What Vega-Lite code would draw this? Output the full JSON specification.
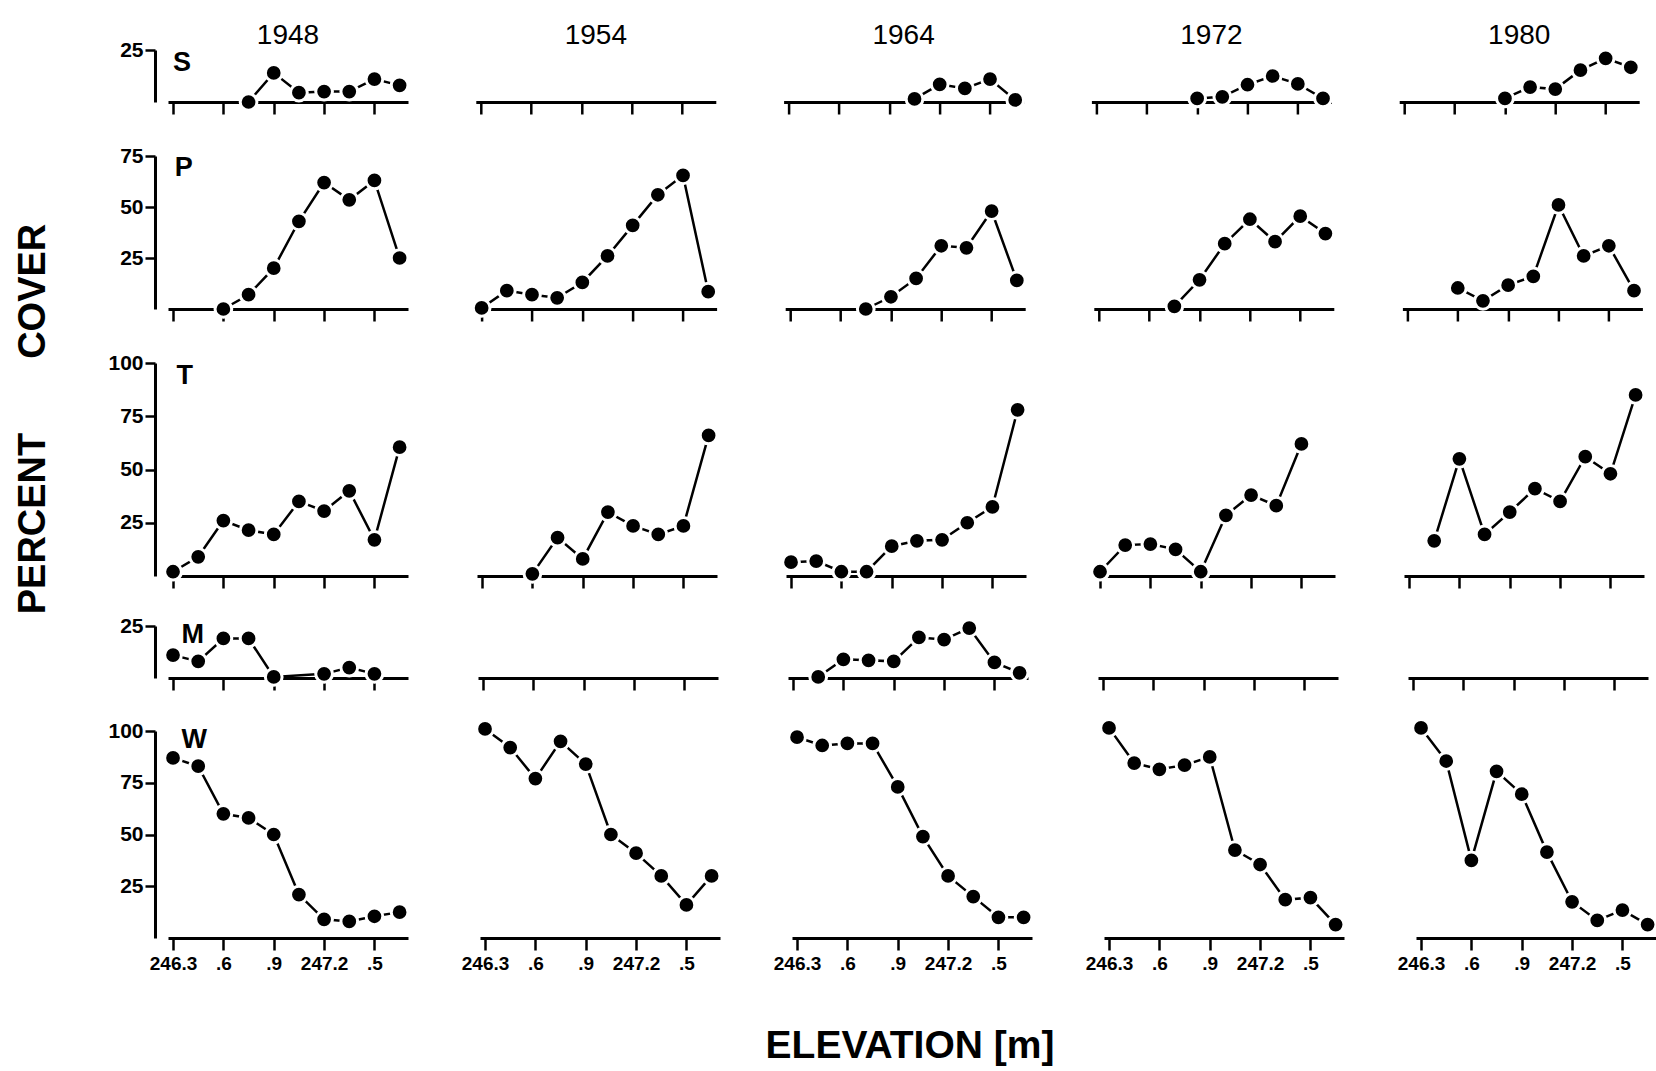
{
 "$schema": "https://vega.github.io/schema/vega-lite/v6.json",
 "background": "white",
 "padding": {"left": 14, "top": 22, "right": 5, "bottom": 5},
 "title": {"text": "PERCENT\u00a0\u00a0\u00a0\u00a0\u00a0\u00a0\u00a0COVER", "orient": "left", "anchor": "middle", "fontSize": 38, "font": "Liberation Sans", "fontWeight": "bold", "color": "black", "offset": 54, "dx": 125},
 "config": {
  "view": {"stroke": null},
  "font": "Liberation Sans",
  "axis": {"grid": false, "domainColor": "black", "tickColor": "black", "labelColor": "black", "domainWidth": 3, "tickWidth": 2.5, "labelFont": "Liberation Sans", "labelFontWeight": "bold"}
 },
 "datasets": {
  "cover": [
   {"yr":1948,"sp":"S","el":246.75,"v":0},{"yr":1948,"sp":"S","el":246.9,"v":14},{"yr":1948,"sp":"S","el":247.05,"v":4.5},{"yr":1948,"sp":"S","el":247.2,"v":5},{"yr":1948,"sp":"S","el":247.35,"v":5},{"yr":1948,"sp":"S","el":247.5,"v":11},{"yr":1948,"sp":"S","el":247.65,"v":8},
   {"yr":1954,"sp":"S","el":null,"v":null},
   {"yr":1964,"sp":"S","el":247.05,"v":1.5},{"yr":1964,"sp":"S","el":247.2,"v":8.5},{"yr":1964,"sp":"S","el":247.35,"v":6.5},{"yr":1964,"sp":"S","el":247.5,"v":11},{"yr":1964,"sp":"S","el":247.65,"v":1},
   {"yr":1972,"sp":"S","el":246.9,"v":1.7},{"yr":1972,"sp":"S","el":247.05,"v":2.5},{"yr":1972,"sp":"S","el":247.2,"v":8.3},{"yr":1972,"sp":"S","el":247.35,"v":12.5},{"yr":1972,"sp":"S","el":247.5,"v":8.7},{"yr":1972,"sp":"S","el":247.65,"v":1.7},
   {"yr":1980,"sp":"S","el":246.9,"v":1.7},{"yr":1980,"sp":"S","el":247.05,"v":7.2},{"yr":1980,"sp":"S","el":247.2,"v":6.2},{"yr":1980,"sp":"S","el":247.35,"v":15.3},{"yr":1980,"sp":"S","el":247.5,"v":21},{"yr":1980,"sp":"S","el":247.65,"v":16.7},

   {"yr":1948,"sp":"P","el":246.6,"v":0},{"yr":1948,"sp":"P","el":246.75,"v":7},{"yr":1948,"sp":"P","el":246.9,"v":20},{"yr":1948,"sp":"P","el":247.05,"v":43},{"yr":1948,"sp":"P","el":247.2,"v":62},{"yr":1948,"sp":"P","el":247.35,"v":53.5},{"yr":1948,"sp":"P","el":247.5,"v":63},{"yr":1948,"sp":"P","el":247.65,"v":25},
   {"yr":1954,"sp":"P","el":246.3,"v":0.5},{"yr":1954,"sp":"P","el":246.45,"v":9},{"yr":1954,"sp":"P","el":246.6,"v":7},{"yr":1954,"sp":"P","el":246.75,"v":5.5},{"yr":1954,"sp":"P","el":246.9,"v":13},{"yr":1954,"sp":"P","el":247.05,"v":26},{"yr":1954,"sp":"P","el":247.2,"v":41},{"yr":1954,"sp":"P","el":247.35,"v":56},{"yr":1954,"sp":"P","el":247.5,"v":65.5},{"yr":1954,"sp":"P","el":247.65,"v":8.5},
   {"yr":1964,"sp":"P","el":246.75,"v":0},{"yr":1964,"sp":"P","el":246.9,"v":6},{"yr":1964,"sp":"P","el":247.05,"v":15},{"yr":1964,"sp":"P","el":247.2,"v":31},{"yr":1964,"sp":"P","el":247.35,"v":30},{"yr":1964,"sp":"P","el":247.5,"v":48},{"yr":1964,"sp":"P","el":247.65,"v":14},
   {"yr":1972,"sp":"P","el":246.75,"v":1.3},{"yr":1972,"sp":"P","el":246.9,"v":14.3},{"yr":1972,"sp":"P","el":247.05,"v":32},{"yr":1972,"sp":"P","el":247.2,"v":44},{"yr":1972,"sp":"P","el":247.35,"v":33},{"yr":1972,"sp":"P","el":247.5,"v":45.5},{"yr":1972,"sp":"P","el":247.65,"v":37},
   {"yr":1980,"sp":"P","el":246.6,"v":10.3},{"yr":1980,"sp":"P","el":246.75,"v":4},{"yr":1980,"sp":"P","el":246.9,"v":11.7},{"yr":1980,"sp":"P","el":247.05,"v":16},{"yr":1980,"sp":"P","el":247.2,"v":51},{"yr":1980,"sp":"P","el":247.35,"v":26},{"yr":1980,"sp":"P","el":247.5,"v":31},{"yr":1980,"sp":"P","el":247.65,"v":9},

   {"yr":1948,"sp":"T","el":246.3,"v":2},{"yr":1948,"sp":"T","el":246.45,"v":9},{"yr":1948,"sp":"T","el":246.6,"v":26},{"yr":1948,"sp":"T","el":246.75,"v":21.5},{"yr":1948,"sp":"T","el":246.9,"v":19.5},{"yr":1948,"sp":"T","el":247.05,"v":35},{"yr":1948,"sp":"T","el":247.2,"v":30.5},{"yr":1948,"sp":"T","el":247.35,"v":40},{"yr":1948,"sp":"T","el":247.5,"v":17},{"yr":1948,"sp":"T","el":247.65,"v":60.5},
   {"yr":1954,"sp":"T","el":246.6,"v":1},{"yr":1954,"sp":"T","el":246.75,"v":18},{"yr":1954,"sp":"T","el":246.9,"v":8},{"yr":1954,"sp":"T","el":247.05,"v":30},{"yr":1954,"sp":"T","el":247.2,"v":23.5},{"yr":1954,"sp":"T","el":247.35,"v":19.5},{"yr":1954,"sp":"T","el":247.5,"v":23.5},{"yr":1954,"sp":"T","el":247.65,"v":66},
   {"yr":1964,"sp":"T","el":246.3,"v":6.5},{"yr":1964,"sp":"T","el":246.45,"v":7},{"yr":1964,"sp":"T","el":246.6,"v":2},{"yr":1964,"sp":"T","el":246.75,"v":2},{"yr":1964,"sp":"T","el":246.9,"v":14},{"yr":1964,"sp":"T","el":247.05,"v":16.5},{"yr":1964,"sp":"T","el":247.2,"v":17},{"yr":1964,"sp":"T","el":247.35,"v":25},{"yr":1964,"sp":"T","el":247.5,"v":32.5},{"yr":1964,"sp":"T","el":247.65,"v":78},
   {"yr":1972,"sp":"T","el":246.3,"v":2},{"yr":1972,"sp":"T","el":246.45,"v":14.5},{"yr":1972,"sp":"T","el":246.6,"v":15},{"yr":1972,"sp":"T","el":246.75,"v":12.5},{"yr":1972,"sp":"T","el":246.9,"v":2},{"yr":1972,"sp":"T","el":247.05,"v":28.5},{"yr":1972,"sp":"T","el":247.2,"v":38},{"yr":1972,"sp":"T","el":247.35,"v":33},{"yr":1972,"sp":"T","el":247.5,"v":62},
   {"yr":1980,"sp":"T","el":246.45,"v":16.5},{"yr":1980,"sp":"T","el":246.6,"v":55},{"yr":1980,"sp":"T","el":246.75,"v":19.5},{"yr":1980,"sp":"T","el":246.9,"v":30},{"yr":1980,"sp":"T","el":247.05,"v":41},{"yr":1980,"sp":"T","el":247.2,"v":35},{"yr":1980,"sp":"T","el":247.35,"v":56},{"yr":1980,"sp":"T","el":247.5,"v":48},{"yr":1980,"sp":"T","el":247.65,"v":85},

   {"yr":1948,"sp":"M","el":246.3,"v":11},{"yr":1948,"sp":"M","el":246.45,"v":8},{"yr":1948,"sp":"M","el":246.6,"v":19},{"yr":1948,"sp":"M","el":246.75,"v":19},{"yr":1948,"sp":"M","el":246.9,"v":0.5},{"yr":1948,"sp":"M","el":247.2,"v":2},{"yr":1948,"sp":"M","el":247.35,"v":5},{"yr":1948,"sp":"M","el":247.5,"v":2},
   {"yr":1954,"sp":"M","el":null,"v":null},
   {"yr":1964,"sp":"M","el":246.45,"v":0.5},{"yr":1964,"sp":"M","el":246.6,"v":9},{"yr":1964,"sp":"M","el":246.75,"v":8.5},{"yr":1964,"sp":"M","el":246.9,"v":8},{"yr":1964,"sp":"M","el":247.05,"v":19.5},{"yr":1964,"sp":"M","el":247.2,"v":18.5},{"yr":1964,"sp":"M","el":247.35,"v":24},{"yr":1964,"sp":"M","el":247.5,"v":7.5},{"yr":1964,"sp":"M","el":247.65,"v":2.5},
   {"yr":1972,"sp":"M","el":null,"v":null},
   {"yr":1980,"sp":"M","el":null,"v":null},

   {"yr":1948,"sp":"W","el":246.3,"v":87},{"yr":1948,"sp":"W","el":246.45,"v":83},{"yr":1948,"sp":"W","el":246.6,"v":60},{"yr":1948,"sp":"W","el":246.75,"v":58},{"yr":1948,"sp":"W","el":246.9,"v":50},{"yr":1948,"sp":"W","el":247.05,"v":21},{"yr":1948,"sp":"W","el":247.2,"v":9},{"yr":1948,"sp":"W","el":247.35,"v":8},{"yr":1948,"sp":"W","el":247.5,"v":10.5},{"yr":1948,"sp":"W","el":247.65,"v":12.5},
   {"yr":1954,"sp":"W","el":246.3,"v":101},{"yr":1954,"sp":"W","el":246.45,"v":92},{"yr":1954,"sp":"W","el":246.6,"v":77},{"yr":1954,"sp":"W","el":246.75,"v":95},{"yr":1954,"sp":"W","el":246.9,"v":84},{"yr":1954,"sp":"W","el":247.05,"v":50},{"yr":1954,"sp":"W","el":247.2,"v":41},{"yr":1954,"sp":"W","el":247.35,"v":30},{"yr":1954,"sp":"W","el":247.5,"v":16},{"yr":1954,"sp":"W","el":247.65,"v":30},
   {"yr":1964,"sp":"W","el":246.3,"v":97},{"yr":1964,"sp":"W","el":246.45,"v":93},{"yr":1964,"sp":"W","el":246.6,"v":94},{"yr":1964,"sp":"W","el":246.75,"v":94},{"yr":1964,"sp":"W","el":246.9,"v":73},{"yr":1964,"sp":"W","el":247.05,"v":49},{"yr":1964,"sp":"W","el":247.2,"v":30},{"yr":1964,"sp":"W","el":247.35,"v":20},{"yr":1964,"sp":"W","el":247.5,"v":10},{"yr":1964,"sp":"W","el":247.65,"v":10},
   {"yr":1972,"sp":"W","el":246.3,"v":101.5},{"yr":1972,"sp":"W","el":246.45,"v":84.5},{"yr":1972,"sp":"W","el":246.6,"v":81.5},{"yr":1972,"sp":"W","el":246.75,"v":83.5},{"yr":1972,"sp":"W","el":246.9,"v":87.5},{"yr":1972,"sp":"W","el":247.05,"v":42.5},{"yr":1972,"sp":"W","el":247.2,"v":35.5},{"yr":1972,"sp":"W","el":247.35,"v":18.5},{"yr":1972,"sp":"W","el":247.5,"v":19.5},{"yr":1972,"sp":"W","el":247.65,"v":6.5},
   {"yr":1980,"sp":"W","el":246.3,"v":101.5},{"yr":1980,"sp":"W","el":246.45,"v":85.5},{"yr":1980,"sp":"W","el":246.6,"v":37.5},{"yr":1980,"sp":"W","el":246.75,"v":80.5},{"yr":1980,"sp":"W","el":246.9,"v":69.5},{"yr":1980,"sp":"W","el":247.05,"v":41.5},{"yr":1980,"sp":"W","el":247.2,"v":17.5},{"yr":1980,"sp":"W","el":247.35,"v":8.5},{"yr":1980,"sp":"W","el":247.5,"v":13.5},{"yr":1980,"sp":"W","el":247.65,"v":6.5}
  ]
 },
 "data": {"name": "cover"},
 "spacing": 23,
 "vconcat": [
  {
   "spacing": 28,
   "vconcat": [
    {
     "transform": [{"filter": "datum.sp == 'S'"}],
     "facet": {"column": {"field": "yr", "type": "ordinal", "title": null, "header": {"labelFontSize": 28, "labelFont": "Liberation Sans", "labelColor": "black", "labelPadding": 0}}},
     "spacing": 67.8, "bounds": "flush",
     "spec": {
      "width": 240, "height": 52,
      "layer": [
       {"mark": {"type": "line", "color": "black", "strokeWidth": 2.5},
        "encoding": {
         "x": {"field": "el", "type": "quantitative", "scale": {"domain": [246.27, 247.7], "nice": false, "zero": false}, "axis": {"values": [246.3, 246.6, 246.9, 247.2, 247.5], "labels": false, "title": null, "tickSize": 12, "zindex": 1}},
         "y": {"field": "v", "type": "quantitative", "scale": {"domain": [0, 25], "nice": false}, "axis": {"values": [25], "title": null, "offset": 13, "tickSize": 10, "labelFontSize": 21, "labelPadding": 2, "minExtent": 48, "maxExtent": 48}}}},
       {"mark": {"type": "point", "filled": true, "fill": "black", "stroke": "white", "strokeWidth": 3, "size": 280, "opacity": 1},
        "encoding": {"x": {"field": "el", "type": "quantitative"}, "y": {"field": "v", "type": "quantitative"}}},
       {"transform": [{"filter": "datum.yr == 1948"}, {"window": [{"op": "row_number", "as": "rn"}], "groupby": ["yr"]}, {"filter": "datum.rn == 1"}],
        "mark": {"type": "text", "align": "left", "baseline": "top", "fontSize": 27, "fontWeight": "bold", "color": "black", "dy": 0},
        "encoding": {"x": {"datum": 246.3, "type": "quantitative"}, "y": {"datum": 25, "type": "quantitative"}, "text": {"field": "sp"}}}
      ]
     }
    },
    {
     "transform": [{"filter": "datum.sp == 'P'"}],
     "facet": {"column": {"field": "yr", "type": "ordinal", "title": null, "header": {"labels": false}}},
     "spacing": 68.6, "bounds": "flush",
     "spec": {
      "width": 240, "height": 153,
      "layer": [
       {"mark": {"type": "line", "color": "black", "strokeWidth": 2.5},
        "encoding": {
         "x": {"field": "el", "type": "quantitative", "scale": {"domain": [246.27, 247.7], "nice": false, "zero": false}, "axis": {"values": [246.3, 246.6, 246.9, 247.2, 247.5], "labels": false, "title": null, "tickSize": 12, "zindex": 1}},
         "y": {"field": "v", "type": "quantitative", "scale": {"domain": [0, 75], "nice": false}, "axis": {"values": [25, 50, 75], "title": null, "offset": 13, "tickSize": 10, "labelFontSize": 21, "labelPadding": 2, "minExtent": 48, "maxExtent": 48}}}},
       {"mark": {"type": "point", "filled": true, "fill": "black", "stroke": "white", "strokeWidth": 3, "size": 280, "opacity": 1},
        "encoding": {"x": {"field": "el", "type": "quantitative"}, "y": {"field": "v", "type": "quantitative"}}},
       {"transform": [{"filter": "datum.yr == 1948"}, {"window": [{"op": "row_number", "as": "rn"}], "groupby": ["yr"]}, {"filter": "datum.rn == 1"}],
        "mark": {"type": "text", "align": "left", "baseline": "top", "fontSize": 27, "fontWeight": "bold", "color": "black", "dy": -1},
        "encoding": {"x": {"datum": 246.31, "type": "quantitative"}, "y": {"datum": 75, "type": "quantitative"}, "text": {"field": "sp"}}}
      ]
     }
    },
    {
     "transform": [{"filter": "datum.sp == 'T'"}],
     "facet": {"column": {"field": "yr", "type": "ordinal", "title": null, "header": {"labels": false}}},
     "spacing": 69, "bounds": "flush",
     "spec": {
      "width": 240, "height": 213,
      "layer": [
       {"mark": {"type": "line", "color": "black", "strokeWidth": 2.5},
        "encoding": {
         "x": {"field": "el", "type": "quantitative", "scale": {"domain": [246.27, 247.7], "nice": false, "zero": false}, "axis": {"values": [246.3, 246.6, 246.9, 247.2, 247.5], "labels": false, "title": null, "tickSize": 12, "zindex": 1}},
         "y": {"field": "v", "type": "quantitative", "scale": {"domain": [0, 100], "nice": false}, "axis": {"values": [25, 50, 75, 100], "title": null, "offset": 13, "tickSize": 10, "labelFontSize": 21, "labelPadding": 2, "minExtent": 48, "maxExtent": 48}}}},
       {"mark": {"type": "point", "filled": true, "fill": "black", "stroke": "white", "strokeWidth": 3, "size": 280, "opacity": 1},
        "encoding": {"x": {"field": "el", "type": "quantitative"}, "y": {"field": "v", "type": "quantitative"}}},
       {"transform": [{"filter": "datum.yr == 1948"}, {"window": [{"op": "row_number", "as": "rn"}], "groupby": ["yr"]}, {"filter": "datum.rn == 1"}],
        "mark": {"type": "text", "align": "left", "baseline": "top", "fontSize": 27, "fontWeight": "bold", "color": "black", "dy": 0},
        "encoding": {"x": {"datum": 246.32, "type": "quantitative"}, "y": {"datum": 100, "type": "quantitative"}, "text": {"field": "sp"}}}
      ]
     }
    }
   ]
  },
  {
   "spacing": 21,
   "vconcat": [
    {
     "transform": [{"filter": "datum.sp == 'M'"}],
     "facet": {"column": {"field": "yr", "type": "ordinal", "title": null, "header": {"labels": false}}},
     "spacing": 70, "bounds": "flush",
     "spec": {
      "width": 240, "height": 52,
      "layer": [
       {"mark": {"type": "line", "color": "black", "strokeWidth": 2.5},
        "encoding": {
         "x": {"field": "el", "type": "quantitative", "scale": {"domain": [246.27, 247.7], "nice": false, "zero": false}, "axis": {"values": [246.3, 246.6, 246.9, 247.2, 247.5], "labels": false, "title": null, "tickSize": 12, "zindex": 1}},
         "y": {"field": "v", "type": "quantitative", "scale": {"domain": [0, 25], "nice": false}, "axis": {"values": [25], "title": null, "offset": 13, "tickSize": 10, "labelFontSize": 21, "labelPadding": 2, "minExtent": 48, "maxExtent": 48}}}},
       {"mark": {"type": "point", "filled": true, "fill": "black", "stroke": "white", "strokeWidth": 3, "size": 280, "opacity": 1},
        "encoding": {"x": {"field": "el", "type": "quantitative"}, "y": {"field": "v", "type": "quantitative"}}},
       {"transform": [{"filter": "datum.yr == 1948"}, {"window": [{"op": "row_number", "as": "rn"}], "groupby": ["yr"]}, {"filter": "datum.rn == 1"}],
        "mark": {"type": "text", "align": "left", "baseline": "top", "fontSize": 27, "fontWeight": "bold", "color": "black", "dy": -4},
        "encoding": {"x": {"datum": 246.35, "type": "quantitative"}, "y": {"datum": 25, "type": "quantitative"}, "text": {"field": "sp"}}}
      ]
     }
    },
    {
     "transform": [{"filter": "datum.sp == 'W'"}],
     "facet": {"column": {"field": "yr", "type": "ordinal", "title": "ELEVATION  [m]\u00a0\u00a0\u00a0\u00a0\u00a0", "header": {"labels": false, "titleOrient": "bottom", "titleFontSize": 39, "titleFontWeight": "bold", "titleFont": "Liberation Sans", "titleColor": "black", "titlePadding": 44}}},
     "spacing": 72, "bounds": "flush",
     "spec": {
      "width": 240, "height": 207,
      "layer": [
       {"mark": {"type": "line", "color": "black", "strokeWidth": 2.5},
        "encoding": {
         "x": {"field": "el", "type": "quantitative", "scale": {"domain": [246.27, 247.7], "nice": false, "zero": false}, "axis": {"values": [246.3, 246.6, 246.9, 247.2, 247.5], "title": null, "tickSize": 12, "zindex": 1, "labelFontSize": 19, "labelPadding": 4, "labelOverlap": false, "labelFlush": false, "labelBound": false, "labelExpr": "abs(datum.value-246.3)<0.01 ? '246.3' : abs(datum.value-247.2)<0.01 ? '247.2' : '.' + substring(format(datum.value,'.1f'),4,5)"}},
         "y": {"field": "v", "type": "quantitative", "scale": {"domain": [0, 100], "nice": false}, "axis": {"values": [25, 50, 75, 100], "title": null, "offset": 13, "tickSize": 10, "labelFontSize": 21, "labelPadding": 2, "minExtent": 48, "maxExtent": 48}}}},
       {"mark": {"type": "point", "filled": true, "fill": "black", "stroke": "white", "strokeWidth": 3, "size": 280, "opacity": 1},
        "encoding": {"x": {"field": "el", "type": "quantitative"}, "y": {"field": "v", "type": "quantitative"}}},
       {"transform": [{"filter": "datum.yr == 1948"}, {"window": [{"op": "row_number", "as": "rn"}], "groupby": ["yr"]}, {"filter": "datum.rn == 1"}],
        "mark": {"type": "text", "align": "left", "baseline": "top", "fontSize": 27, "fontWeight": "bold", "color": "black", "dy": -4},
        "encoding": {"x": {"datum": 246.35, "type": "quantitative"}, "y": {"datum": 100, "type": "quantitative"}, "text": {"field": "sp"}}}
      ]
     }
    }
   ]
  }
 ]
}
